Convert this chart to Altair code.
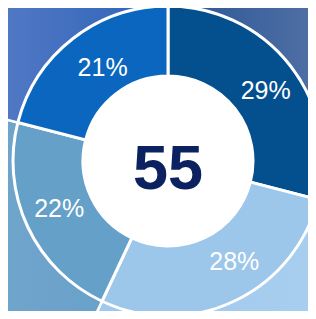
import altair as alt
import pandas as pd

labels = ["29%", "28%", "22%", "21%"]
values = [29, 28, 22, 21]
order = [1, 2, 3, 4]
donut_colors = ["#04508f", "#9cc6ea", "#64a0c8", "#0a66be"]
bg_stops = [
    [("#285494", 0.0), ("#4e6ea4", 0.58), ("#6a80b0", 1.0)],
    [("#a0c8ec", 0.0), ("#aacff0", 1.0)],
    [("#74a6cd", 0.0), ("#66a0c8", 1.0)],
    [("#6a8ccc", 0.0), ("#5078c4", 0.31), ("#2e62b8", 1.0)],
]
# label placement tweaks (style): angular offset in radians and radius in px
label_theta_offset = [0.040, -0.140, 0.024, 0.049]
label_radius = [120, 121, 119, 114]
center_value = ["55"]

df = pd.DataFrame({"label": labels, "value": values, "order": order})

CX, CY = 160, 153
FONT = "Liberation Sans, Arial, Helvetica, sans-serif"

theta_scale = alt.Scale(domain=[0, 100])


def stacked():
    return (
        alt.Chart(df)
        .transform_stack(stack="value", as_=["v0", "v1"], groupby=[],
                         sort=[alt.SortField("order", order="ascending")])
        .transform_calculate(mid="(datum.v0 + datum.v1) / 2")
    )


base = stacked().encode(
    theta=alt.Theta("v0:Q", scale=theta_scale),
    theta2="v1:Q",
    x=alt.value(CX),
    y=alt.value(CY),
)

layers = []
for lab, stops in zip(labels, bg_stops):
    grad = alt.LinearGradient(
        gradient="linear",
        stops=[alt.GradientStop(color=c, offset=o) for c, o in stops],
        x1=0, x2=1, y1=0, y2=0,
    )
    layers.append(
        base.transform_filter(alt.datum.label == lab)
        .mark_arc(outerRadius=240, stroke="white", strokeWidth=2.5, color=grad)
    )

disc = base.mark_arc(outerRadius=86, color="white", stroke="white", strokeWidth=2)
layers.append(disc)

donut = base.mark_arc(innerRadius=85, outerRadius=155, stroke="white", strokeWidth=3).encode(
    color=alt.Color("label:N", scale=alt.Scale(domain=labels, range=donut_colors), legend=None)
)
layers.append(donut)

for lab, toff, rad in zip(labels, label_theta_offset, label_radius):
    layers.append(
        stacked()
        .transform_filter(alt.datum.label == lab)
        .mark_text(radius=rad, thetaOffset=toff, fontSize=25, color="white", font=FONT,
                   align="center", baseline="middle")
        .encode(
            theta=alt.Theta("mid:Q", scale=theta_scale),
            text="label:N",
            x=alt.value(CX),
            y=alt.value(CY),
        )
    )

center = (
    alt.Chart(pd.DataFrame({"t": center_value}))
    .mark_text(fontSize=63, fontWeight="bold", color="#0c2160", font=FONT,
               align="center", baseline="alphabetic")
    .encode(text="t:N", x=alt.value(CX), y=alt.value(181))
)
layers.append(center)

chart = (
    alt.layer(*layers)
    .properties(width=300, height=303, padding=0,
                autosize=alt.AutoSizeParams(type="none"))
    .configure_view(strokeWidth=0)
)

chart.save("out.html", embed_options={"renderer": "svg", "actions": False})
